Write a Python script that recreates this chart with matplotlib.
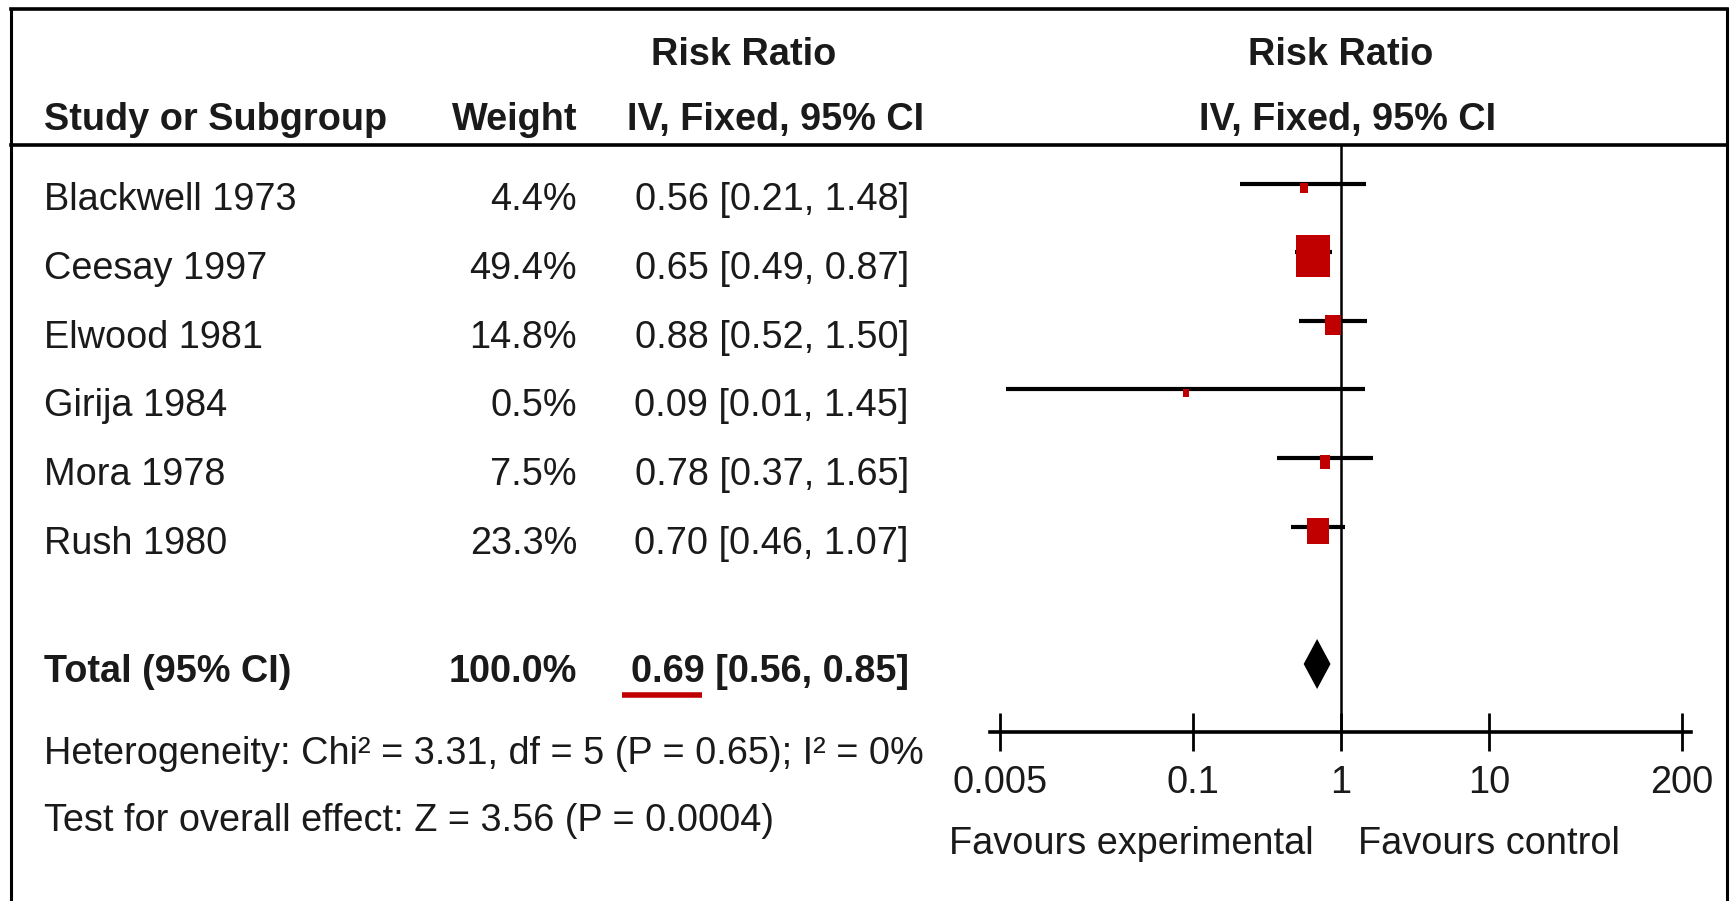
import matplotlib
matplotlib.use("Agg")
import numpy as np
import matplotlib.pyplot as plt
from matplotlib.patches import Polygon

# ---- data ----
studies = ["Blackwell 1973", "Ceesay 1997", "Elwood 1981", "Girija 1984", "Mora 1978", "Rush 1980"]
weights = [4.4, 49.4, 14.8, 0.5, 7.5, 23.3]
rr = [0.56, 0.65, 0.88, 0.09, 0.78, 0.70]
ci_low = [0.21, 0.49, 0.52, 0.0055, 0.37, 0.46]
ci_high = [1.48, 0.87, 1.50, 1.45, 1.65, 1.07]

total_label = "Total (95% CI)"
total_weight = 100.0
total_rr = 0.69
total_low = 0.56
total_high = 0.85

heterogeneity = "Heterogeneity: Chi\u00b2 = 3.31, df = 5 (P = 0.65); I\u00b2 = 0%"
overall_effect = "Test for overall effect: Z = 3.56 (P = 0.0004)"
xticks = [0.005, 0.1, 1, 10, 200]
xtick_labels = ["0.005", "0.1", "1", "10", "200"]
favours_left = "Favours experimental"
favours_right = "Favours control"

plt.rcParams["font.family"] = ["Liberation Sans", "DejaVu Sans"]

W, H = 1734, 901
FS = 27.3
TXT = "#1a1a1a"
RED = "#c00000"

fig = plt.figure(figsize=(W / 100, H / 100), dpi=100)
ax = fig.add_axes([0, 0, 1, 1])
ax.set_xlim(0, W)
ax.set_ylim(H, 0)
ax.axis("off")

# frame + header rule
ax.plot([11, 11], [9, H + 5], color="k", lw=2.2)
ax.plot([1727, 1727], [9, H + 5], color="k", lw=2.2)
ax.plot([11, 1727], [9, 9], color="k", lw=2.6)
ax.plot([11, 1727], [145, 145], color="k", lw=2.6)

# column positions (px)
X_NAME, X_W, X_CI = 44, 577, 909
X_RR1 = 1341
row0, dy = 214.5, 68.6
SH = -4  # baseline shift for the smaller cap height

ax.text(744, 68.6 + SH, "Risk Ratio", fontsize=FS, fontweight="bold", ha="center", color=TXT)
ax.text(1341, 68.6 + SH, "Risk Ratio", fontsize=FS, fontweight="bold", ha="center", color=TXT)
ax.text(X_NAME, 134 + SH, "Study or Subgroup", fontsize=FS, fontweight="bold", ha="left", color=TXT)
ax.text(X_W, 134 + SH, "Weight", fontsize=FS, fontweight="bold", ha="right", color=TXT)
ax.text(776, 134 + SH, "IV, Fixed, 95% CI", fontsize=FS, fontweight="bold", ha="center", color=TXT)
ax.text(1348, 134 + SH, "IV, Fixed, 95% CI", fontsize=FS, fontweight="bold", ha="center", color=TXT)

for i, name in enumerate(studies):
    yb = row0 + dy * i + SH
    ax.text(X_NAME, yb, name, fontsize=FS, color=TXT)
    ax.text(X_W, yb, f"{weights[i]:.1f}%", fontsize=FS, ha="right", color=TXT)
    ax.text(X_CI, yb, f"{rr[i]:.2f} [{ci_low[i]:.2f}, {ci_high[i]:.2f}]", fontsize=FS, ha="right", color=TXT)

yt = 686 + SH
ax.text(X_NAME, yt, total_label, fontsize=FS, fontweight="bold", color=TXT)
ax.text(X_W, yt, f"{total_weight:.1f}%", fontsize=FS, fontweight="bold", ha="right", color=TXT)
t_tot = ax.text(X_CI, yt, f"{total_rr:.2f} [{total_low:.2f}, {total_high:.2f}]",
                fontsize=FS, fontweight="bold", ha="right", color=TXT)
ax.text(X_NAME, 767.5 + SH, heterogeneity, fontsize=FS, color=TXT)
ax.text(X_NAME, 835 + SH, overall_effect, fontsize=FS, color=TXT)

# red underline under the pooled estimate
fig.canvas.draw()
r = fig.canvas.get_renderer()
bb = t_tot.get_window_extent(r)
tmp = ax.text(0, 0, f"{total_rr:.2f}", fontsize=FS, fontweight="bold")
wnum = tmp.get_window_extent(r).width
tmp.remove()
x0 = bb.x0
ax.plot([x0 - 9, x0 + wnum - 3], [695, 695], color=RED, lw=4, solid_capstyle="butt")

# ---- forest panel ----
DEC = 148.3
xlo, xhi = 0.0043, 230
left = X_RR1 + DEC * np.log10(xlo)
right = X_RR1 + DEC * np.log10(xhi)
ytop, ybot = 145, 732
fx = fig.add_axes([left / W, 1 - ybot / H, (right - left) / W, (ybot - ytop) / H])
fx.set_xscale("log")
fx.set_xlim(xlo, xhi)
fx.set_ylim(ybot, ytop)
fx.patch.set_alpha(0)
for s in ["top", "left", "right"]:
    fx.spines[s].set_visible(False)
fx.spines["bottom"].set_linewidth(2.6)
fx.axvline(1, color="k", lw=1.8)
fx.set_yticks([])
fx.set_xticks(xticks)
fx.set_xticklabels(xtick_labels)
fx.xaxis.set_minor_locator(matplotlib.ticker.NullLocator())
fx.tick_params(axis="x", direction="inout", length=28, width=2, labelsize=FS, pad=10, colors="k")
for lab in fx.get_xticklabels():
    lab.set_color(TXT)

box_w = 0.8
rect = [(-box_w / 2, -0.5), (box_w / 2, -0.5), (box_w / 2, 0.5), (-box_w / 2, 0.5), (-box_w / 2, -0.5)]
for i in range(len(studies)):
    yc = row0 + dy * i - 18 - 13
    fx.plot([ci_low[i], ci_high[i]], [yc, yc], color="k", lw=3, solid_capstyle="butt")
    ms = max(2.9 * weights[i] ** 0.6, 5.5)
    fx.plot([rr[i]], [yc + 4], marker=rect, markersize=ms, color=RED, mec=RED, mew=0, ls="none")

yd = 664
dh = 25
fx.add_patch(Polygon([(total_low, yd), (total_rr, yd - dh), (total_high, yd), (total_rr, yd + dh)],
                     closed=True, color="k", lw=0))

ax.text(1314, 858 + SH, favours_left, fontsize=FS, ha="right", color=TXT)
ax.text(1358, 858 + SH, favours_right, fontsize=FS, ha="left", color=TXT)

fig.savefig("out.png", dpi=100)
